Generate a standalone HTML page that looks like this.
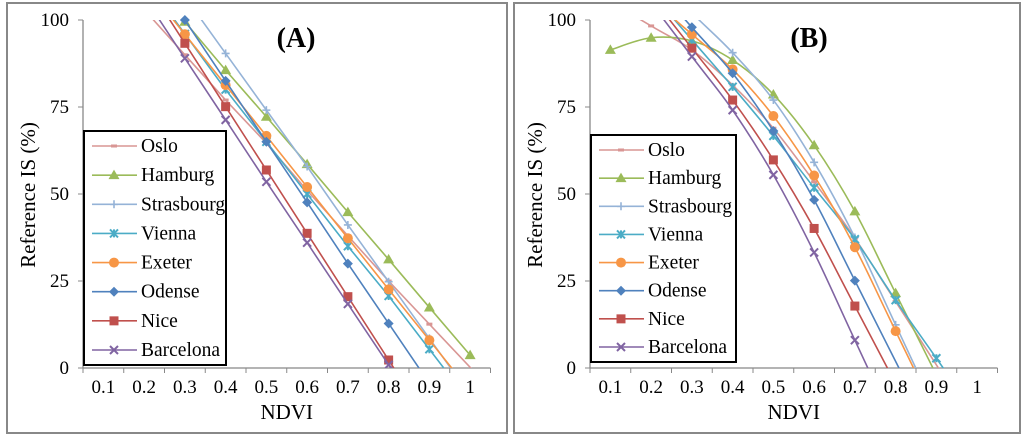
<!DOCTYPE html>
<html><head><meta charset="utf-8"><style>
html,body{margin:0;background:#fff;overflow:hidden;width:1024px;height:439px;}
svg{display:block;font-family:"Liberation Serif",serif;}
</style></head><body>
<svg id="c" width="1024" height="439" viewBox="0 0 1024 439"></svg>
<script>
const cities=["Oslo","Hamburg","Strasbourg","Vienna","Exeter","Odense","Nice","Barcelona"];
const colors=["#d99694","#9bbb59","#95b3d7","#4bacc6","#f79646","#4f81bd","#c0504d","#8064a2"];
const markers=["dash","tri","plus","star","circle","diamond","square","x"];
const xTicks=["0.1","0.2","0.3","0.4","0.5","0.6","0.7","0.8","0.9","1"];
const yTicks=[0,25,50,75,100];
// Panel A: [x, y] points
const aOslo=[[0.3,90],[0.4,77],[0.5,64.6],[0.6,51],[0.7,38],[0.8,25],[0.9,12.6]];
const aHamburg=[[0.3,99.5],[0.4,85.6],[0.5,72.2],[0.6,58.6],[0.7,44.8],[0.8,31.2],[0.9,17.4],[1.0,3.7]];
const aStrasbourg=[[0.4,90.4],[0.5,74.1],[0.6,57.9],[0.7,41.1],[0.8,24.8],[0.9,8.5]];
const aVienna=[[0.3,96],[0.4,80],[0.5,65],[0.6,50],[0.7,35],[0.8,20.7],[0.9,5.4]];
const aExeter=[[0.3,95.9],[0.4,81.3],[0.5,66.7],[0.6,52],[0.7,37.3],[0.8,22.6],[0.9,8]];
const aOdense=[[0.3,100],[0.4,82.5],[0.5,65],[0.6,47.6],[0.7,30],[0.8,12.8]];
const aNice=[[0.3,93.3],[0.4,75.1],[0.5,56.9],[0.6,38.7],[0.7,20.5],[0.8,2.3]];
const aBarcelona=[[0.3,89],[0.4,71.3],[0.5,53.5],[0.6,36],[0.7,18.4],[0.8,0.9]];
// Panel B
const bOslo=[[0.2,98.3],[0.3,91.4],[0.4,81.3],[0.5,68.9],[0.6,53.5],[0.7,37.3],[0.8,19.1]];
const bHamburg=[[0.1,91.4],[0.2,94.9],[0.3,94],[0.4,88.5],[0.5,78.6],[0.6,64],[0.7,45],[0.8,21.5]];
const bStrasbourg=[[0.3,102],[0.4,90.6],[0.5,77],[0.6,59.1],[0.7,37.5],[0.8,12.4]];
const bVienna=[[0.3,94.3],[0.4,80.8],[0.5,66.7],[0.6,51.8],[0.7,37],[0.8,19.5],[0.9,2.8]];
const bExeter=[[0.3,95.9],[0.4,85.8],[0.5,72.4],[0.6,55.3],[0.7,34.7],[0.8,10.6]];
const bOdense=[[0.3,97.9],[0.4,84.7],[0.5,68.1],[0.6,48.3],[0.7,25.1]];
const bNice=[[0.3,91.9],[0.4,77],[0.5,59.8],[0.6,40.1],[0.7,17.8]];
const bBarcelona=[[0.3,89.5],[0.4,74.1],[0.5,55.5],[0.6,33.2],[0.7,8]];
const seriesA=[aOslo,aHamburg,aStrasbourg,aVienna,aExeter,aOdense,aNice,aBarcelona];
const seriesB=[bOslo,bHamburg,bStrasbourg,bVienna,bExeter,bOdense,bNice,bBarcelona];

const NS="http://www.w3.org/2000/svg";
const svg=document.getElementById('c');
function mk(tag,at,parent){const e=document.createElementNS(NS,tag);for(const k in at)e.setAttribute(k,at[k]);(parent||svg).appendChild(e);return e;}

function panel(P){
  const g=mk('g',{});
  
  
  const fr=mk('rect',{x:P.fx,y:3,width:P.fw,height:430,fill:'none',stroke:'#888','stroke-width':2},g);
  
  
  const x0=P.ax,top=20,bot=368,cw=40.75;
  const X=v=>x0+cw*(v*10-0.5);
  const Y=v=>bot-(bot-top)*v/100;
  const ya=mk('line',{x1:x0,y1:top,x2:x0,y2:bot,stroke:'#888','stroke-width':1.3},g);
  
  
  const xa=mk('line',{x1:x0,y1:bot,x2:x0+cw*10,y2:bot,stroke:'#888','stroke-width':1.3},g);
  
  
  yTicks.forEach(t=>{
    mk('line',{x1:x0-5,y1:Y(t),x2:x0,y2:Y(t),stroke:'#888'},g);
    const tx=mk('text',{x:x0-14,y:Y(t)+6,'text-anchor':'end','font-size':19},g);
    tx.textContent=t;
    
    
  });
  for(let i=0;i<=10;i++) mk('line',{x1:x0+cw*i,y1:bot,x2:x0+cw*i,y2:bot+5,stroke:'#888'},g);
  xTicks.forEach((t,i)=>{
    const tx=mk('text',{x:x0+cw*(i+0.5),y:393,'text-anchor':'middle','font-size':19},g);
    tx.textContent=t;
    
    
  });
  const yt=mk('text',{x:0,y:0,transform:`translate(${P.fx+28},195) rotate(-90)`,'text-anchor':'middle','font-size':21},g);
  yt.textContent='Reference IS (%)';
  
  
  const xt=mk('text',{x:x0+cw*5,y:419,'text-anchor':'middle','font-size':21},g);
  xt.textContent='NDVI';
  
  
  const tt=mk('text',{x:P.tx,y:47,'text-anchor':'middle','font-size':28,'font-weight':'bold'},g);
  tt.textContent=P.title;
  
  
  const cp=mk('clipPath',{id:'clip'+P.id},g);
  mk('rect',{x:x0,y:top-8,width:cw*10+10,height:bot-top+8},cp);
  const cp2=mk('clipPath',{id:'clipl'+P.id},g);
  mk('rect',{x:x0,y:top,width:cw*10+10,height:bot-top},cp2);
  const lg=mk('g',{'clip-path':`url(#clip${P.id})`},g);
  P.series.forEach((pts,si)=>{
    const n=pts.length;
    const f=pts[0],f2=pts[1],l=pts[n-1],l2=pts[n-2];
    const s0=(f2[1]-f[1])/(f2[0]-f[0]), s1=(l[1]-l2[1])/(l[0]-l2[0]);
    const ext=[...pts];
    if(f[0]>0.15) ext.unshift([f[0]-0.2,f[1]-0.2*s0]);
    if(l[0]<0.95) ext.push([l[0]+0.2,l[1]+0.2*s1]);
    const P2=ext.map(p=>[X(p[0]),Y(p[1])]);
    let d='M'+P2[0][0]+','+P2[0][1];
    if(P.smooth){
      for(let i=0;i<P2.length-1;i++){
        const p0=P2[Math.max(0,i-1)],p1=P2[i],p2=P2[i+1],p3=P2[Math.min(P2.length-1,i+2)];
        const c1=[p1[0]+(p2[0]-p0[0])/6,p1[1]+(p2[1]-p0[1])/6];
        const c2=[p2[0]-(p3[0]-p1[0])/6,p2[1]-(p3[1]-p1[1])/6];
        d+=` C${c1[0]},${c1[1]} ${c2[0]},${c2[1]} ${p2[0]},${p2[1]}`;
      }
    } else P2.slice(1).forEach(p=>d+=` L${p[0]},${p[1]}`);
    const ln=mk('path',{d:d,fill:'none',stroke:colors[si],'stroke-width':1.6,'clip-path':`url(#clipl${P.id})`},lg);
    
    
    pts.forEach(p=>{
      if(p[1]>101) return;
      const m=marker(markers[si],X(p[0]),Y(p[1]),colors[si],lg);
      
      
    });
  });
  const L=mk('g',{},g);
  
  
  mk('rect',{x:P.lx,y:P.ly,width:P.lw,height:P.lh,fill:'#fff',stroke:'#000','stroke-width':2},L);
  cities.forEach((c,i)=>{
    const yy=P.ly+15+i*(P.lh-30)/7;
    const e=mk('g',{},L);
    
    
    mk('line',{x1:P.lx+8,y1:yy,x2:P.lx+53,y2:yy,stroke:colors[i],'stroke-width':1.6},e);
    marker(markers[i],P.lx+30,yy,colors[i],e);
    const t=mk('text',{x:P.lx+57,y:yy+6,'font-size':19.5},e);
    t.textContent=c;
  });
}
function marker(type,x,y,c,parent){
  let e;
  if(type==='circle') e=mk('circle',{cx:x,cy:y,r:5,fill:c},parent);
  else if(type==='square') e=mk('rect',{x:x-4.5,y:y-4.5,width:9,height:9,fill:c},parent);
  else if(type==='diamond') e=mk('path',{d:`M${x},${y-5}L${x+5},${y}L${x},${y+5}L${x-5},${y}Z`,fill:c},parent);
  else if(type==='tri') e=mk('path',{d:`M${x},${y-5.5}L${x+5.5},${y+4}L${x-5.5},${y+4}Z`,fill:c},parent);
  else if(type==='dash') e=mk('rect',{x:x-3,y:y-1.5,width:6,height:3,fill:c},parent);
  else if(type==='plus') e=mk('path',{d:`M${x-4},${y}H${x+4}M${x},${y-4}V${y+4}`,stroke:c,'stroke-width':1.6},parent);
  else if(type==='x') e=mk('path',{d:`M${x-4},${y-4}L${x+4},${y+4}M${x+4},${y-4}L${x-4},${y+4}`,stroke:c,'stroke-width':2},parent);
  else e=mk('path',{d:`M${x-4},${y-4}L${x+4},${y+4}M${x+4},${y-4}L${x-4},${y+4}M${x},${y-4}V${y+4}`,stroke:c,'stroke-width':2},parent);
  return e;
}
panel({id:'a',fx:7,fw:500,ax:83,title:'(A)',tx:296,series:seriesA,smooth:false,lx:84,ly:131,lw:142,lh:234});
panel({id:'b',fx:514,fw:506,ax:590,title:'(B)',tx:809,series:seriesB,smooth:true,lx:591,ly:135,lw:145,lh:227});
</script>
</body></html>
